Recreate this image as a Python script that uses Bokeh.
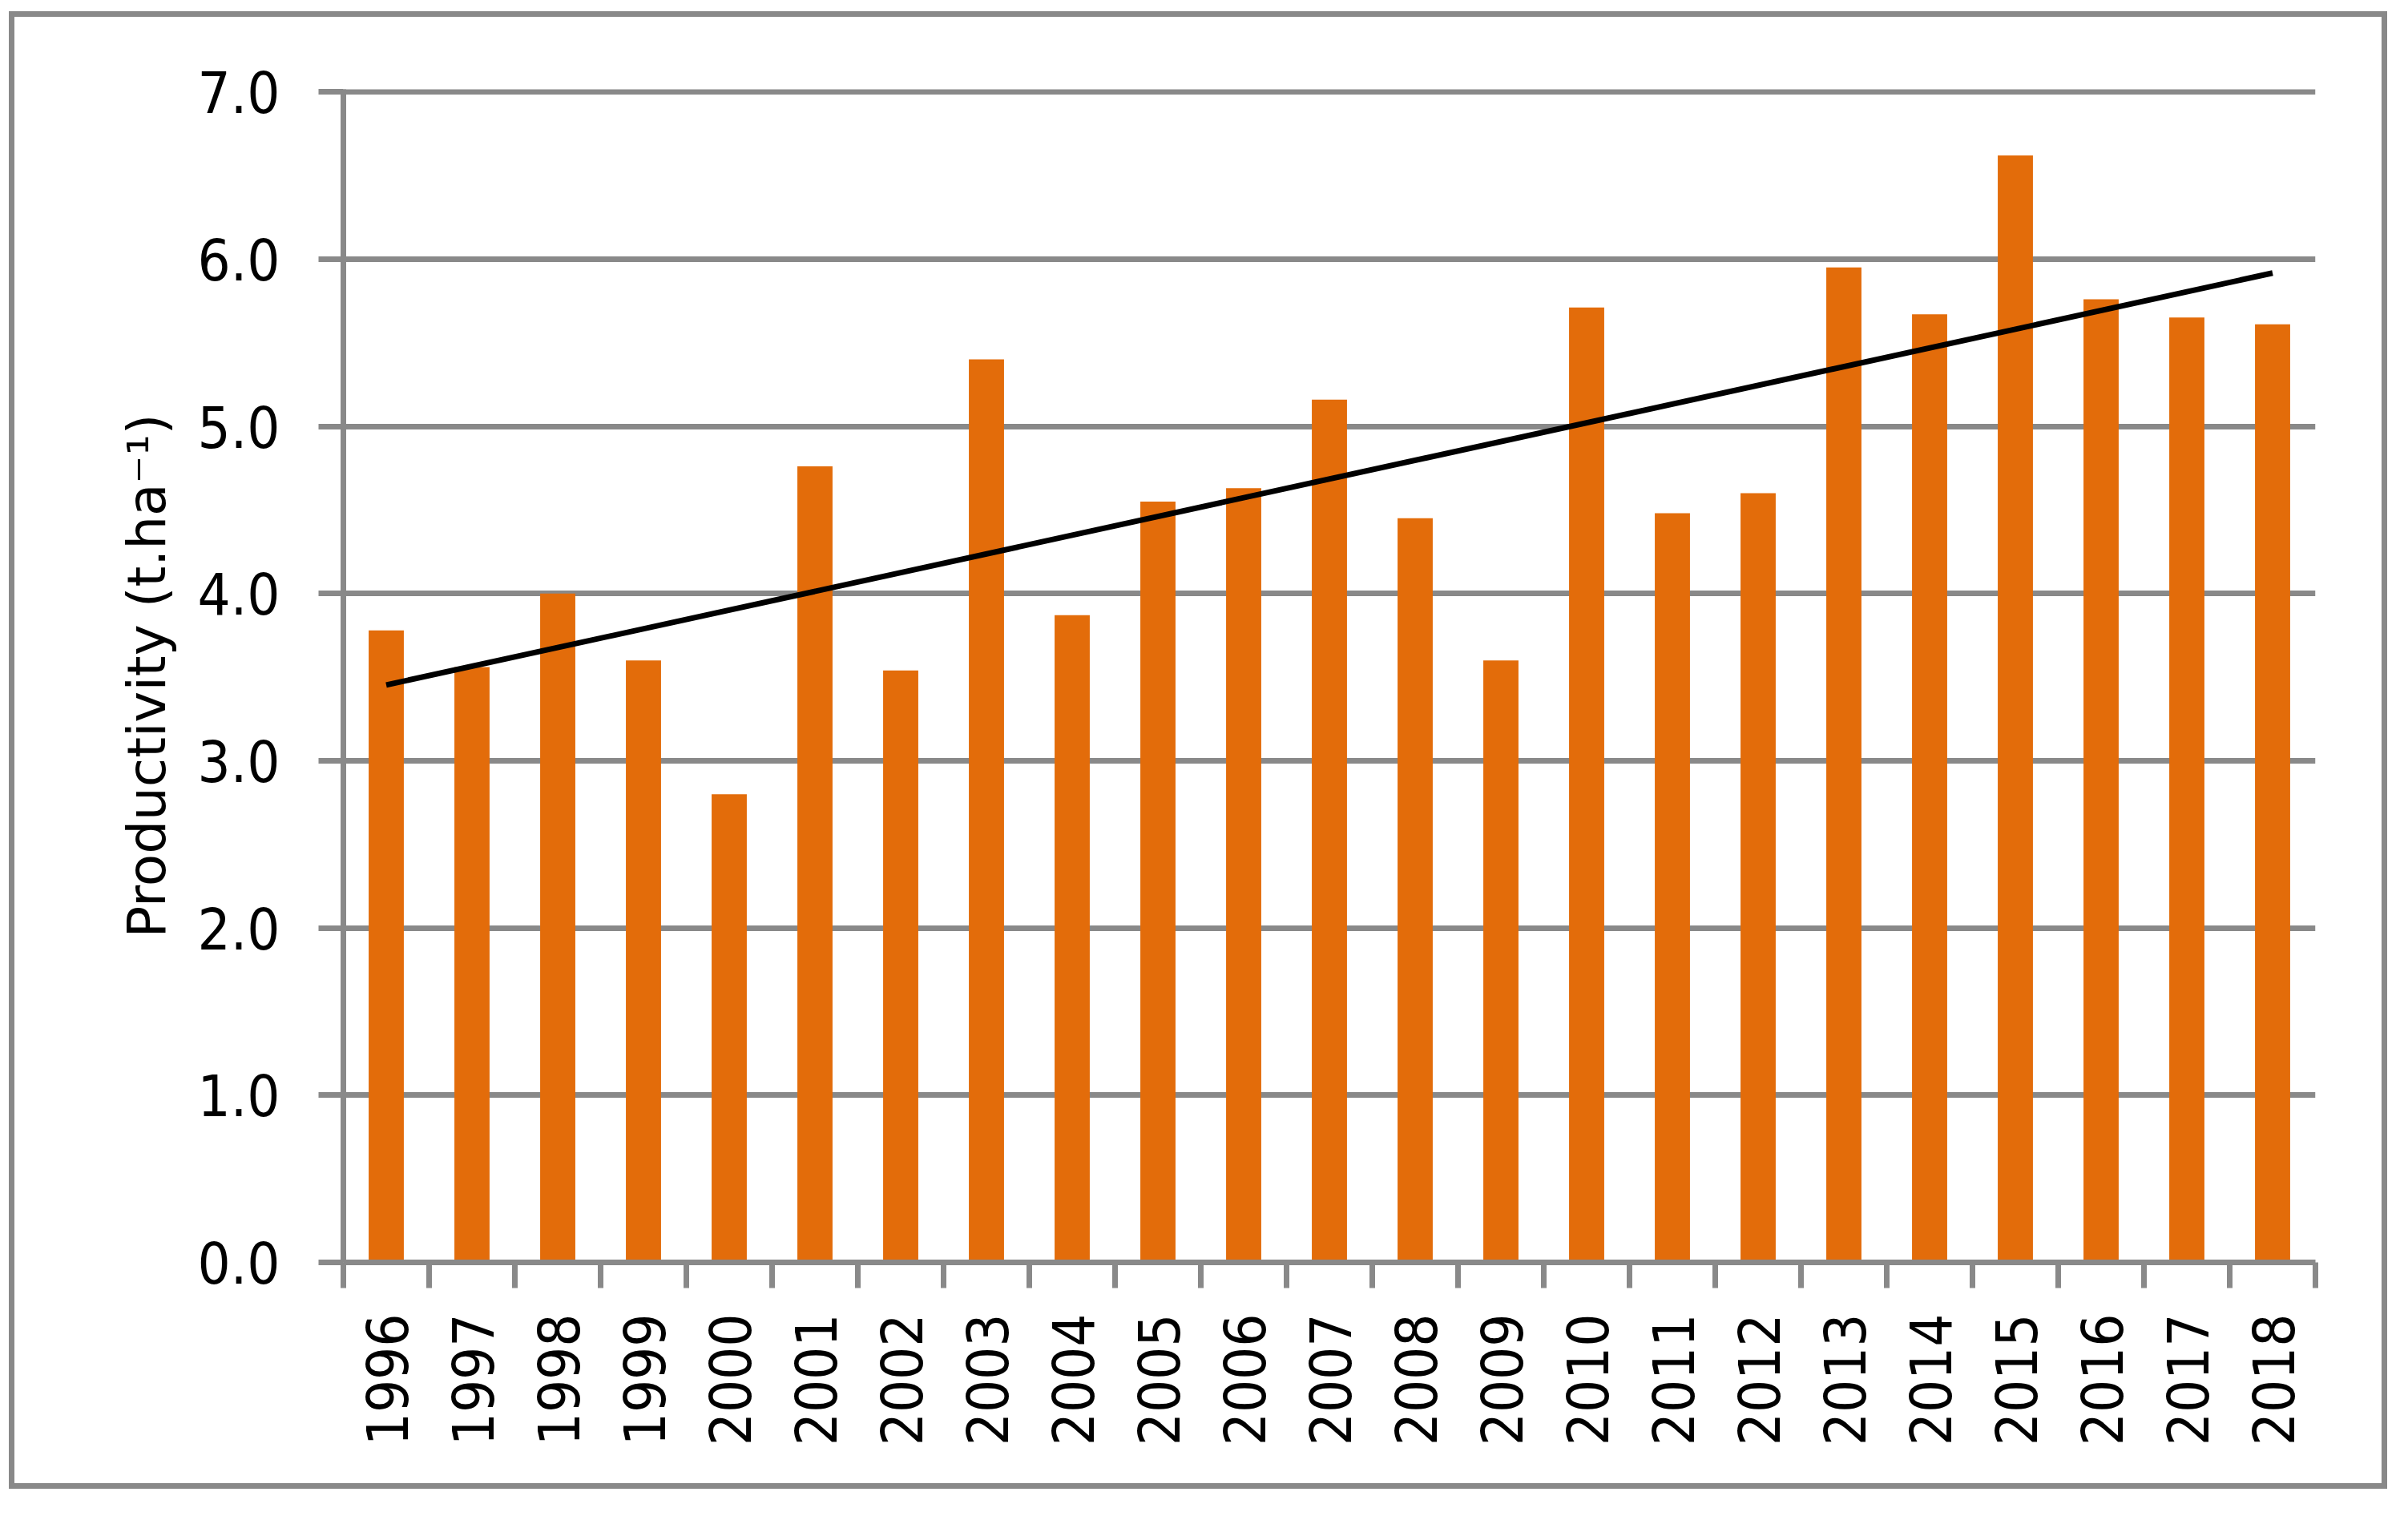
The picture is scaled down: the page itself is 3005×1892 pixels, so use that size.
import numpy as np
from bokeh.plotting import figure
from bokeh.models import FixedTicker, NumeralTickFormatter, Range1d, ColumnDataSource
from bokeh.embed import file_html
from bokeh.resources import INLINE

# ---- data ----
years = [str(y) for y in range(1996, 2019)]
productivity = [3.78, 3.56, 4.00, 3.60, 2.80, 4.76, 3.54, 5.40, 3.87, 4.55,
                4.63, 5.16, 4.45, 3.60, 5.71, 4.48, 4.60, 5.95, 5.67, 6.62,
                5.76, 5.65, 5.61]
y_ticks = [0, 1, 2, 3, 4, 5, 6, 7]
y_label = "Productivity (t.ha\u207b\u00b9)"

ORANGE = "#E36C0A"
GREY = "#898989"
FONT = "DejaVu Sans Condensed"
FS = "72px"

n = len(years)
x_pos = [i + 0.5 for i in range(n)]
boundaries = list(range(n + 1))
slope, intercept = np.polyfit(np.array(x_pos), np.array(productivity), 1)
trend_x = [x_pos[0], x_pos[-1]]
trend_y = [intercept + slope * x_pos[0], intercept + slope * x_pos[-1]]

src = ColumnDataSource(dict(x=x_pos, top=productivity, year=years))

p = figure(width=2968, height=1844, output_backend="svg", toolbar_location=None,
           x_range=Range1d(0, n), y_range=Range1d(0, 7.015),
           min_border_left=410, min_border_right=97, min_border_top=90,
           min_border_bottom=290)
p.margin = (14, 0, 0, 11)
p.styles = {"border": "7px solid #898989"}
p.outline_line_color = None
p.background_fill_color = "white"
p.border_fill_color = "white"

p.vbar(x="x", top="top", bottom=0, width=0.41, source=src,
       fill_color=ORANGE, line_color=None)
p.line(trend_x, trend_y, line_color="black", line_width=7)

# x axis
xa = p.xaxis[0]
xa.ticker = FixedTicker(ticks=x_pos, minor_ticks=boundaries)
xa.major_label_overrides = {float(x): y for x, y in zip(x_pos, years)}
xa.major_tick_out = 0
xa.major_tick_in = 0
xa.major_tick_line_color = None
xa.minor_tick_out = 32
xa.minor_tick_in = 0
xa.minor_tick_line_color = GREY
xa.minor_tick_line_width = 7
xa.axis_line_color = GREY
xa.axis_line_width = 7
xa.major_label_orientation = np.pi / 2
xa.major_label_standoff = 32
xa.major_label_text_font = FONT
xa.major_label_text_font_size = FS
xa.major_label_text_color = "black"

# y axis
ya = p.yaxis[0]
ya.ticker = FixedTicker(ticks=y_ticks)
ya.formatter = NumeralTickFormatter(format="0.0")
ya.major_tick_out = 31
ya.major_tick_in = 0
ya.major_tick_line_color = GREY
ya.major_tick_line_width = 7
ya.minor_tick_line_color = None
ya.axis_line_color = GREY
ya.axis_line_width = 7
ya.major_label_standoff = 48
ya.major_label_text_font = FONT
ya.major_label_text_font_size = FS
ya.major_label_text_color = "black"
ya.axis_label = y_label
ya.axis_label_text_font = "DejaVu Sans"
ya.axis_label_text_font_size = "66px"
ya.axis_label_text_font_style = "normal"
ya.axis_label_text_color = "black"
ya.axis_label_standoff = 22

p.xgrid.grid_line_color = None
p.ygrid.ticker = FixedTicker(ticks=y_ticks)
p.ygrid.grid_line_color = GREY
p.ygrid.grid_line_width = 7

open("out.html", "w").write(file_html(p, INLINE))
